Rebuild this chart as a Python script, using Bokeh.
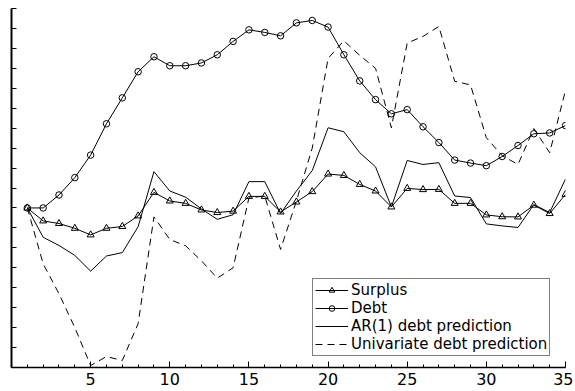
from bokeh.plotting import figure
from bokeh.models import Range1d, FixedTicker, Legend, LegendItem
from bokeh.embed import file_html
from bokeh.resources import INLINE

periods = list(range(1, 36))
surplus = [0, -0.65, -0.78, -1.02, -1.35, -1.02, -0.93, -0.4, 0.78, 0.35,
           0.23, -0.1, -0.23, -0.16, 0.58, 0.58, -0.2, 0.3, 0.82, 1.7,
           1.63, 1.18, 0.85, 0.05, 0.98, 0.92, 0.93, 0.23, 0.23, -0.35,
           -0.44, -0.45, 0.14, -0.28, 0.68]
debt = [0, 0, 0.65, 1.52, 2.65, 4.22, 5.52, 6.83, 7.58, 7.13,
        7.13, 7.27, 7.68, 8.35, 8.93, 8.8, 8.63, 9.28, 9.4, 9.07,
        7.68, 6.37, 5.43, 4.72, 4.93, 4.07, 3.28, 2.4, 2.25, 2.12,
        2.58, 3.13, 3.72, 3.76, 4.13]
ar1_pred = [0, -1.47, -1.88, -2.38, -3.17, -2.41, -2.24, -0.94, 1.82, 0.85,
            0.54, -0.05, -0.57, -0.34, 1.32, 1.32, -0.28, 0.85, 1.87, 4.02,
            3.82, 2.77, 2.06, 0.05, 2.38, 2.18, 2.27, 0.6, 0.52, -0.8,
            -0.9, -0.98, 0.17, -0.23, 1.45]
univ_pred = [0, -2.8, -4.3, -6.0, -7.9, -7.45, -7.65, -5.8, -0.45, -1.58,
             -1.9, -2.65, -3.52, -3.0, 0.5, 0.6, -2.08, 0.35, 3.0, 7.5,
             8.38, 7.65, 7.0, 4.02, 8.27, 8.6, 9.1, 6.35, 6.17, 3.52,
             2.62, 2.18, 3.98, 2.77, 5.9]
x_major = [5, 10, 15, 20, 25, 30, 35]
x_minor = list(range(0, 36))
y_minor = list(range(-8, 11))
labels = ["Surplus", "Debt", "AR(1) debt prediction", "Univariate debt prediction"]

FONT = "DejaVu Sans"

p = figure(width=573, height=391, x_range=Range1d(0, 35), y_range=Range1d(-8, 10),
           output_backend="svg", toolbar_location=None,
           min_border_left=11, min_border_right=8, min_border_top=8, min_border_bottom=24)
p.outline_line_color = None
p.xgrid.visible = False
p.ygrid.visible = False
p.background_fill_color = "white"
p.border_fill_color = "white"

# x axis
p.xaxis.ticker = FixedTicker(ticks=x_major, minor_ticks=x_minor)
p.xaxis.major_tick_in = 6
p.xaxis.major_tick_out = 0
p.xaxis.minor_tick_in = 3
p.xaxis.minor_tick_out = 0
p.xaxis.axis_line_width = 1.5
p.xaxis.major_label_text_font = FONT
p.xaxis.major_label_text_font_size = "16px"
p.xaxis.major_label_text_color = "black"
p.xaxis.major_label_standoff = 5
p.xaxis.axis_line_color = "black"
p.xaxis.major_tick_line_color = "black"
p.xaxis.minor_tick_line_color = "black"

# y axis (ticks only)
p.yaxis.ticker = FixedTicker(ticks=[], minor_ticks=y_minor)
p.yaxis.minor_tick_in = 5
p.yaxis.minor_tick_out = 0
p.yaxis.major_tick_in = 0
p.yaxis.major_tick_out = 0
p.yaxis.axis_line_width = 2
p.yaxis.axis_line_color = "black"
p.yaxis.minor_tick_line_color = "black"

lw = 1.0
r_s_line = p.line(periods, surplus, line_color="black", line_width=lw)
r_s_mark = p.scatter(periods, surplus, marker="triangle", size=7, fill_color=None,
                     line_color="black", line_width=1)
r_d_line = p.line(periods, debt, line_color="black", line_width=lw)
r_d_mark = p.scatter(periods, debt, marker="circle", size=6.5, fill_color=None,
                     line_color="black", line_width=1)
r_ar = p.line(periods, ar1_pred, line_color="black", line_width=lw)
r_un = p.line(periods, univ_pred, line_color="black", line_width=lw, line_dash="7 5")

legend = Legend(items=[
    LegendItem(label=labels[0], renderers=[r_s_line, r_s_mark]),
    LegendItem(label=labels[1], renderers=[r_d_line, r_d_mark]),
    LegendItem(label=labels[2], renderers=[r_ar]),
    LegendItem(label=labels[3], renderers=[r_un]),
], location=(301, 11))
legend.label_text_font = FONT
legend.label_text_font_size = "15px"
legend.label_text_line_height = 1.0
legend.label_text_color = "black"
legend.glyph_width = 33
legend.glyph_height = 14
legend.label_height = 14
legend.label_standoff = 3
legend.padding = 2
legend.spacing = 0
legend.margin = 0
legend.border_line_color = "black"
legend.border_line_width = 1
legend.background_fill_color = "white"
legend.background_fill_alpha = 1
p.add_layout(legend, "center")

open("out.html", "w").write(file_html(p, INLINE))
